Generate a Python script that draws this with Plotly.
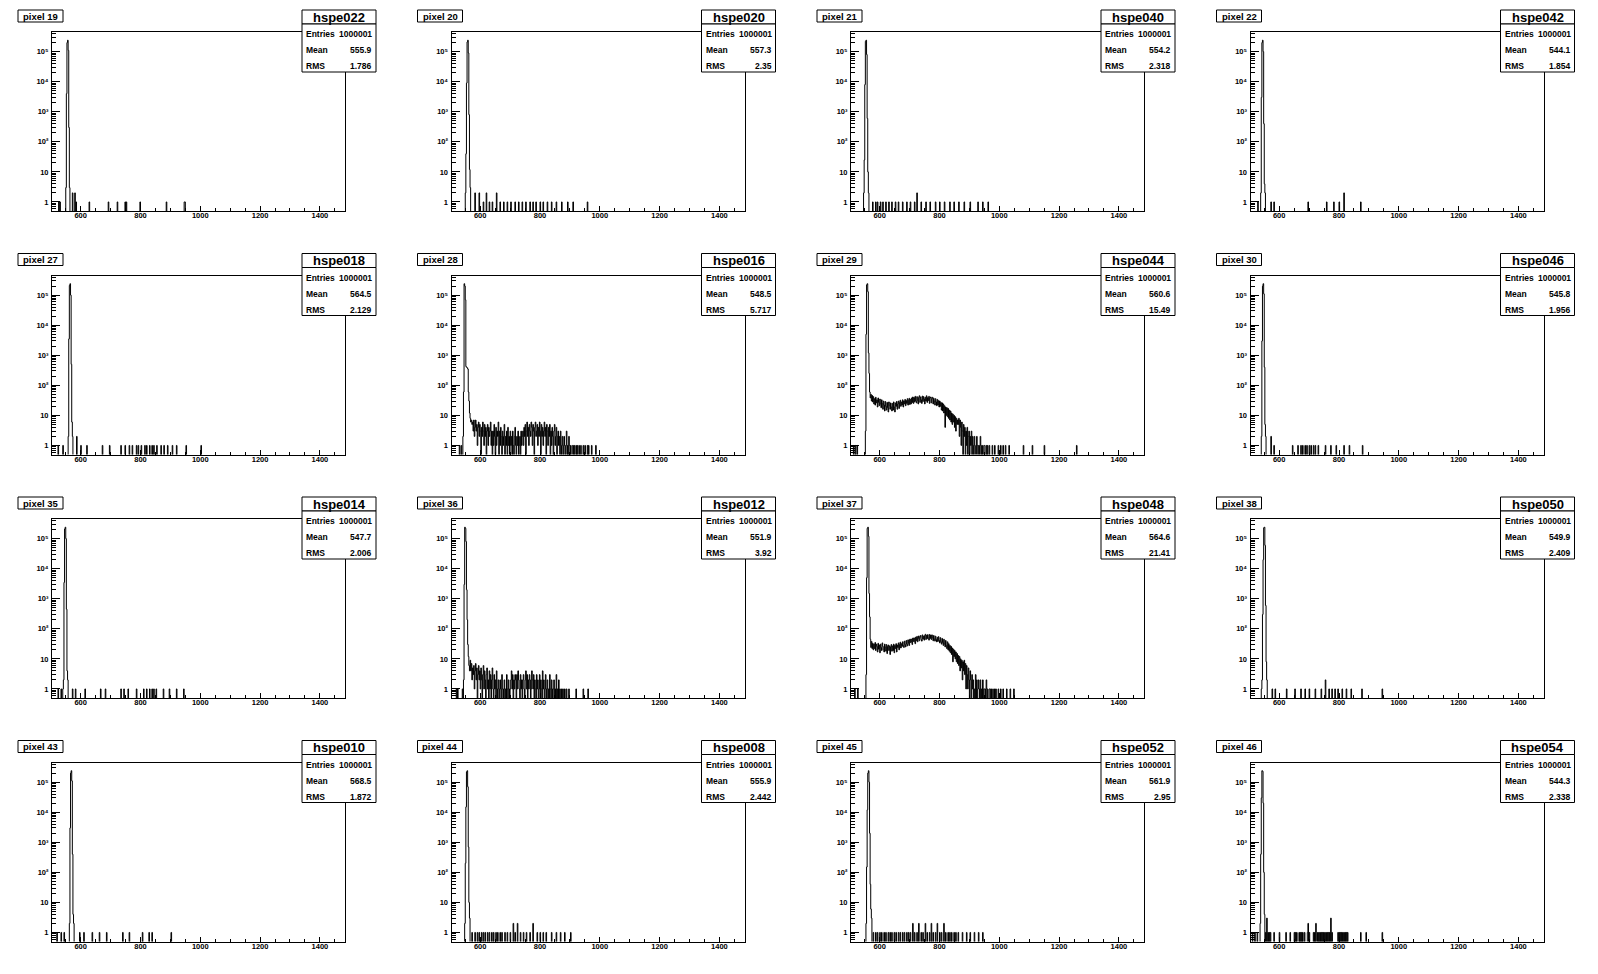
import numpy as np
import plotly.graph_objects as go

# ---------------- data ----------------
pixel_labels = ["pixel 19", "pixel 20", "pixel 21", "pixel 22",
                "pixel 27", "pixel 28", "pixel 29", "pixel 30",
                "pixel 35", "pixel 36", "pixel 37", "pixel 38",
                "pixel 43", "pixel 44", "pixel 45", "pixel 46"]
hist_names = ["hspe022", "hspe020", "hspe040", "hspe042",
              "hspe018", "hspe016", "hspe044", "hspe046",
              "hspe014", "hspe012", "hspe048", "hspe050",
              "hspe010", "hspe008", "hspe052", "hspe054"]
entries = ["1000001"] * 16
means = ["555.9", "557.3", "554.2", "544.1", "564.5", "548.5", "560.6", "545.8",
         "547.7", "551.9", "564.6", "549.9", "568.5", "555.9", "561.9", "544.3"]
rms = ["1.786", "2.35", "2.318", "1.854", "2.129", "5.717", "15.49", "1.956",
       "2.006", "3.92", "21.41", "2.409", "1.872", "2.442", "2.95", "2.338"]

x_tick_vals = [600, 800, 1000, 1200, 1400]
y_tick_vals = [1, 10, 100, 1000, 10000, 100000]
y_tick_text = ["1", "10", "10\u00b2", "10\u00b3", "10\u2074", "10\u2075"]

# peak: first bin lower edge and counts of consecutive 2-unit bins
pk_start = [550, 550, 546, 538, 558, 542, 552, 540, 542, 544, 554, 542, 562, 548, 554, 536]
pk19 = [3, 4000, 200000, 240000, 110000, 300, 3]
pk20 = [2, 40, 9000, 210000, 240000, 90000, 800, 12, 3]
pk21 = [2, 25, 8000, 220000, 240000, 80000, 600, 10, 2]
pk22 = [2, 3000, 200000, 240000, 100000, 400, 4, 2]
pk27 = [2, 3500, 210000, 240000, 100000, 500, 6, 2]
pk28 = [2, 60, 240000, 200000, 70000, 420, 400, 380, 350, 60, 30, 12]
pk29 = [3, 5000, 220000, 240000, 130000, 1200, 250]
pk30 = [2, 3000, 200000, 240000, 110000, 400, 5, 2]
pk35 = [2, 3500, 210000, 240000, 100000, 450, 4, 2]
pk36 = [2, 3000, 240000, 220000, 80000, 2000, 200, 30, 12, 6, 4]
pk37 = [3, 5000, 220000, 240000, 120000, 1500]
pk38 = [2, 300, 20000, 230000, 240000, 60000, 600, 8, 2]
pk43 = [2, 3000, 200000, 240000, 110000, 400, 4, 2]
pk44 = [2, 200, 15000, 220000, 240000, 70000, 700, 10, 3]
pk45 = [2, 150, 12000, 200000, 240000, 100000, 2000, 40, 6, 2]
pk46 = [2, 400, 30000, 240000, 230000, 20000, 100, 4, 0, 1]

# continuous tails (2-unit bins starting at 566)
tail_start = 566
tail28 = [8, 6, 7, 5, 6, 3, 7, 2,
          4, 7, 3, 5, 1, 4, 6, 2, 5, 3, 0, 4, 2, 6, 3, 1, 5, 2, 4, 0, 3, 5, 1, 4, 2, 3, 6, 1, 3, 0,
          3, 1, 5, 2, 0, 4, 1, 3, 2, 6, 0, 3, 1, 4, 2, 0, 3, 1, 2, 5, 0, 2, 1, 3, 0, 4, 1, 2, 0, 3,
          1, 2, 0, 3, 1, 0, 2, 4, 1, 0, 2, 1, 3, 0, 1, 2, 0, 3, 1, 2,
          3, 1, 4, 2, 5, 0, 3, 6, 2, 4, 1, 5, 3, 2, 6, 4, 1, 5, 3, 0, 4, 6, 2, 3, 5, 1, 4, 2, 6, 3,
          0, 5, 2, 4, 1, 3, 6, 2, 4, 0, 5, 3, 1, 4, 2, 5, 0, 3, 1, 4, 2, 0, 3, 5, 1, 2, 4, 0, 2, 3,
          1, 2, 0, 3, 1, 0, 2, 1, 0, 2, 1, 0, 1, 3, 0, 1, 0, 2, 1, 0,
          1, 0, 0, 1, 1, 0, 1, 0, 0, 1, 0, 1, 0, 0, 1, 0, 0, 1, 0, 0, 0, 1, 0, 0, 1, 0, 0, 0, 1, 0]
tail29 = [60, 38, 50, 30, 46, 28, 42, 24,
          36, 22, 40, 26, 33, 19, 38, 27, 21, 35, 24, 18, 33, 25, 16, 30, 22, 14, 29, 20, 15, 27,
          18, 13, 28, 21, 16, 26, 19, 14,
          25, 15, 28, 19, 13, 26, 20, 29, 16, 24, 30, 17, 27, 32, 20, 28, 22, 33, 19, 30, 24, 34,
          21, 31, 25, 36, 22, 32, 37, 23,
          34, 24, 38, 27, 41, 25, 39, 28, 43, 30, 26, 42, 31, 24, 40, 45, 27, 41, 33, 25, 44, 29,
          42, 35, 24, 40, 30, 45, 27, 39, 31, 43, 25, 38, 41, 26, 36, 40, 24, 37, 30, 22, 36, 28, 21,
          34, 22, 31, 19, 30, 20, 27, 15, 26, 14, 24, 12, 21, 4, 19, 10, 18, 9, 17, 8, 15, 7, 14,
          6, 12, 5, 11, 6, 10, 4, 9, 3, 8, 5, 7,
          5, 8, 2, 7, 4, 1, 6, 3, 0, 5, 2, 4, 0, 3, 1, 4, 0, 2, 3, 0, 2, 1, 3, 0, 2, 1, 0, 2, 1, 0,
          0, 2, 1, 0, 1,
          1, 0, 2, 1, 0, 1, 0, 0, 1, 1, 0, 0, 1, 0, 1]
tail36 = [9, 4, 7, 2, 5, 3, 6, 1, 4, 7, 2, 5, 0, 3, 6, 2, 4, 1,
          5, 2, 0, 3, 6, 1, 4, 2, 0, 3, 5, 1, 2, 0, 4, 1, 3, 0, 2, 5, 1, 0, 3, 1, 2, 0, 4, 1, 0, 2,
          1, 0, 2, 1, 0, 3, 1, 0, 1, 2, 0, 1, 0, 3, 1, 0, 2, 1, 0, 1, 2, 4, 1, 3, 0, 2, 1, 3, 2, 0,
          3, 1, 4, 2, 1, 0, 3, 1, 2, 0,
          2, 3, 1, 0, 2, 4, 1, 3, 0, 2, 1, 3, 2, 0, 1, 4, 2, 1, 3, 0, 2, 1, 0, 3, 1, 2, 0, 1, 3, 0,
          2, 1, 0, 4, 1, 2, 0, 1, 3, 0,
          1, 2, 0, 1, 0, 3, 1, 0, 2, 1, 0, 1, 2, 0, 1, 0, 3, 0, 1, 0, 2, 0, 1, 0, 0, 1, 0, 1, 0, 0,
          1, 0, 0, 1, 0, 0, 0, 1, 0, 0]
tail37 = [250, 45, 24, 38, 22, 33, 20, 31,
          22, 35, 19, 31, 26, 17, 33, 21, 29, 16, 31, 24, 19, 34, 26, 20, 17, 31, 25, 18, 30, 15,
          26, 29, 19, 27, 14, 25, 30, 18,
          27, 19, 31, 16, 28, 22, 32, 17, 29, 24, 34, 20, 30, 36, 23, 32, 26, 37, 28, 24, 39, 30,
          25, 41, 31, 27, 43, 33, 28, 45,
          35, 46, 36, 30, 49, 38, 50, 37, 32, 53, 40, 56, 37, 48, 58, 40, 52, 60, 44, 39, 63, 46,
          57, 42, 60, 66, 44, 61, 47, 64, 50, 42, 65, 48, 62, 44, 63, 50, 40, 60, 46, 39, 57, 44, 37,
          52, 38, 55, 41, 34, 51, 37, 31, 48, 35, 28, 45, 31, 25, 41, 28, 22, 37, 20, 32, 18, 28,
          16, 26, 14, 23, 8, 21, 12, 19, 10, 17, 8, 15, 7,
          13, 6, 12, 4, 10, 5, 9, 2, 8, 4, 9, 3, 7, 1, 6, 3, 1, 5, 2, 0, 4, 2, 0, 3, 1, 2, 0, 1,
          0, 3, 0, 2, 0, 1, 2,
          1, 0, 2, 0, 1, 0, 2, 0, 1, 1, 0, 1, 2, 0, 1, 0, 0, 1, 1, 0, 1, 0, 0, 1, 0, 0, 1, 0, 1, 0]

# isolated entries (ADC value of each single count; repeated value = higher count)
hits19 = [527, 531, 572, 572, 580, 580, 584, 628, 692, 722, 749, 752, 799, 887, 946, 949]
hits20 = [583, 583, 597, 597, 610, 621, 621, 631, 641, 655, 655, 666, 679, 690, 703, 717, 728,
          741, 752, 766, 776, 786, 800, 810, 824, 838, 855, 872, 893, 910, 959]
hits21 = [576, 586, 593, 603, 610, 621, 631, 641, 652, 662, 676, 690, 703, 717, 724, 724, 738,
          755, 769, 786, 800, 817, 834, 848, 865, 883, 903, 928, 945, 962]
hits22 = [528, 572, 583, 697, 759, 783, 800, 817, 817, 872]
hits27 = [524, 541, 586, 586, 600, 621, 672, 697, 734, 748, 762, 772, 786, 793, 803, 814, 821,
          831, 838, 845, 855, 869, 879, 890, 907, 921, 952, 1003]
hits28 = [530, 536, 962, 972, 986]
hits29 = [512, 518, 524, 966, 976, 984, 996, 1004, 1012, 1020, 1032, 1080, 1110, 1150, 1258]
hits30 = [572, 572, 583, 645, 662, 672, 679, 686, 693, 700, 707, 714, 721, 731, 755, 772, 790,
          817, 834, 879]
hits35 = [524, 534, 541, 572, 583, 614, 666, 683, 734, 745, 759, 786, 810, 821, 831, 838, 845,
          852, 876, 897, 921, 945]
hits36 = [520, 524, 540, 920, 944, 960]
hits37 = [516, 526, 996, 1004, 1012, 1024, 1036, 1048]
hits38 = [541, 576, 586, 624, 652, 672, 686, 700, 721, 741, 755, 755, 766, 776, 786, 797, 810,
          824, 841, 876, 945]
hits43 = [521, 534, 545, 597, 610, 638, 662, 686, 741, 762, 807, 828, 838, 903]
hits44 = [572, 583, 590, 597, 604, 610, 617, 624, 631, 638, 645, 652, 659, 666, 672, 683, 690,
          700, 710, 710, 717, 724, 724, 734, 745, 755, 766, 776, 776, 790, 800, 810, 821, 838,
          855, 869, 883, 903]
hits45 = [572, 579, 586, 593, 600, 607, 614, 621, 628, 634, 641, 648, 655, 662, 669, 676, 683,
          690, 697, 703, 710, 710, 717, 724, 731, 731, 738, 745, 752, 752, 759, 766, 772, 772,
          779, 786, 793, 793, 800, 807, 814, 814, 821, 828, 834, 841, 848, 855, 862, 876, 890,
          903, 917, 931, 945]
hits46 = [511, 519, 526, 559, 559, 559, 563, 567, 571, 583, 600, 622, 637, 650, 654, 659, 667,
          671, 675, 679, 684, 695, 697, 697, 700, 714, 718, 723, 723,
          728, 732, 736, 740, 744, 748, 752, 756, 760, 764, 768, 772, 772, 772, 776,
          796, 800, 804, 808, 812, 816, 820, 824, 828, 873, 890, 945]

peaks = [pk19, pk20, pk21, pk22, pk27, pk28, pk29, pk30,
         pk35, pk36, pk37, pk38, pk43, pk44, pk45, pk46]
hits = [hits19, hits20, hits21, hits22, hits27, hits28, hits29, hits30,
        hits35, hits36, hits37, hits38, hits43, hits44, hits45, hits46]
tails = {5: tail28, 6: tail29, 9: tail36, 10: tail37}

# ---------------- geometry / style ----------------
XMIN, XMAX, BW = 504, 1484, 2
YMIN, YMAX = 0.5, 4.5e5
W, H = 1598, 974
PAD_W, PAD_H = 399.5, 243.5
FR_L, FR_R, FR_T, FR_B = 52, 345, 32, 211
FONT = "Liberation Sans, Arial, Helvetica, sans-serif"

nb = int(round((XMAX - XMIN) / BW))
edges = XMIN + BW * np.arange(nb + 1)


def bin_of(x):
    return int((x - XMIN) // BW)


def px(x):
    return x / W


def py(y):
    return 1 - y / H


def bold(s):
    return "<b>" + s + "</b>"


fig = go.Figure()
shapes = []
annotations = []
layout_axes = {}

minor_y = [m * 10 ** d for d in range(-1, 6) for m in range(2, 10)
           if YMIN <= m * 10 ** d <= YMAX]
minor_x = [v for v in range(550, XMAX, 50) if v % 200 != 0]

for i in range(16):
    r, c = divmod(i, 4)
    counts = np.zeros(nb)
    for k, v in enumerate(peaks[i]):
        counts[bin_of(pk_start[i] + k * BW)] += v
    if i in tails:
        for k, v in enumerate(tails[i]):
            counts[bin_of(tail_start + k * BW)] += v
    for h in hits[i]:
        counts[bin_of(h)] += 1
    yv = np.append(counts, counts[-1])
    yv = np.where(yv > 0, yv, 1e-3)

    sfx = "" if i == 0 else str(i + 1)
    fig.add_trace(go.Scatter(x=edges, y=yv, mode="lines", line_shape="hv",
                             line=dict(color="black", width=1),
                             xaxis="x" + sfx, yaxis="y" + sfx,
                             hoverinfo="skip", showlegend=False))

    x0 = FR_L + PAD_W * c
    x1 = FR_R + PAD_W * c
    y0 = FR_T + PAD_H * r
    y1 = FR_B + PAD_H * r
    layout_axes["xaxis" + sfx] = dict(
        domain=[px(x0), px(x1)], anchor="y" + sfx, range=[XMIN, XMAX],
        showline=True, mirror=True, linecolor="black", linewidth=1,
        showgrid=False, zeroline=False,
        tickmode="array", tickvals=x_tick_vals, ticks="inside", ticklen=5,
        tickcolor="black", tickwidth=1,
        minor=dict(tickmode="array", tickvals=minor_x, ticks="inside", ticklen=3,
                   tickcolor="black", tickwidth=1),
        tickfont=dict(family=FONT, size=7.5, color="black", weight="bold"),
        ticklabelstandoff=-3,
    )
    layout_axes["yaxis" + sfx] = dict(
        domain=[py(y1), py(y0)], anchor="x" + sfx, type="log",
        range=[np.log10(YMIN), np.log10(YMAX)],
        showline=True, mirror=True, linecolor="black", linewidth=1,
        showgrid=False, zeroline=False,
        tickmode="array", tickvals=y_tick_vals, ticktext=y_tick_text,
        ticks="inside", ticklen=8, tickcolor="black", tickwidth=1,
        minor=dict(tickmode="array", tickvals=minor_y, ticks="inside", ticklen=4,
                   tickcolor="black", tickwidth=1),
        tickfont=dict(family=FONT, size=7.5, color="black", weight="bold"),
        ticklabelstandoff=1,
    )

    ox, oy = PAD_W * c, PAD_H * r
    # pixel label box
    shapes.append(dict(type="rect", xref="paper", yref="paper",
                       x0=px(18 + ox), x1=px(63 + ox), y0=py(22 + oy), y1=py(10 + oy),
                       line=dict(color="black", width=1), fillcolor="white", layer="above"))
    annotations.append(dict(xref="paper", yref="paper", x=px(40.5 + ox), y=py(16 + oy),
                            text=bold(pixel_labels[i]), showarrow=False, xanchor="center",
                            yanchor="middle",
                            font=dict(family=FONT, size=9.5, color="black")))
    # title box
    shapes.append(dict(type="rect", xref="paper", yref="paper",
                       x0=px(302 + ox), x1=px(376 + ox), y0=py(24 + oy), y1=py(10 + oy),
                       line=dict(color="black", width=1), fillcolor="white", layer="above"))
    annotations.append(dict(xref="paper", yref="paper", x=px(339 + ox), y=py(17 + oy),
                            text=bold(hist_names[i]), showarrow=False, xanchor="center",
                            yanchor="middle",
                            font=dict(family=FONT, size=13, color="black")))
    # stats box
    shapes.append(dict(type="rect", xref="paper", yref="paper",
                       x0=px(302 + ox), x1=px(376 + ox), y0=py(72 + oy), y1=py(24 + oy),
                       line=dict(color="black", width=1), fillcolor="white", layer="above"))
    for lab, val, yy in (("Entries", entries[i], 34), ("Mean", means[i], 50),
                         ("RMS", rms[i], 66)):
        annotations.append(dict(xref="paper", yref="paper", x=px(304 + ox), y=py(yy + oy),
                                text=bold(lab), showarrow=False, xanchor="left",
                                yanchor="middle",
                                font=dict(family=FONT, size=8.5, color="black")))
        annotations.append(dict(xref="paper", yref="paper", x=px(374 + ox), y=py(yy + oy),
                                text=bold(val), showarrow=False, xanchor="right",
                                yanchor="middle",
                                font=dict(family=FONT, size=8.5, color="black")))

fig.update_layout(
    width=W, height=H, margin=dict(l=0, r=0, t=0, b=0),
    paper_bgcolor="white", plot_bgcolor="white", showlegend=False,
    shapes=shapes, annotations=annotations, **layout_axes,
)
fig.write_html("out.html",
               config={"displayModeBar": False},
               post_script="document.body.style.margin='0px';"
                           "document.body.style.overflow='hidden';")
